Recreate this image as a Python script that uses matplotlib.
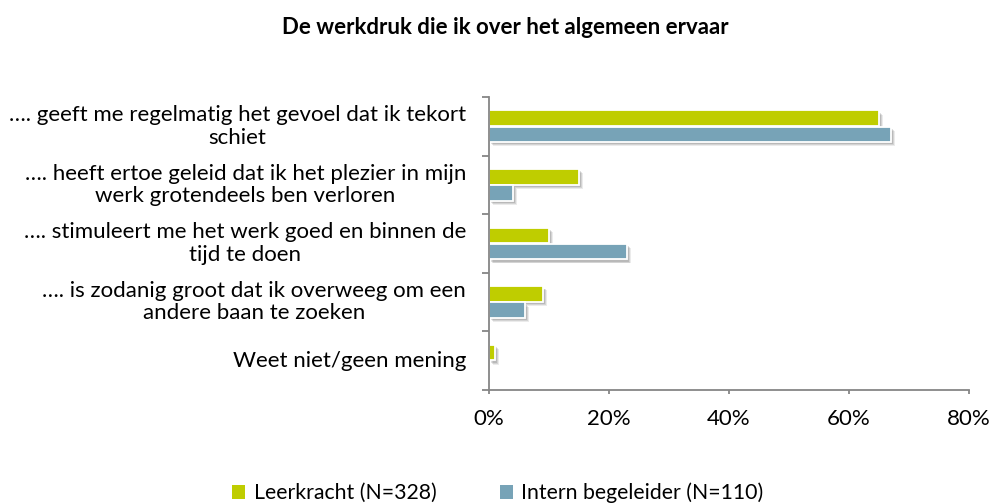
import matplotlib
matplotlib.use("Agg")
import matplotlib.pyplot as plt
import matplotlib.patheffects as pe
from matplotlib.patches import Patch
from matplotlib.ticker import FuncFormatter, FixedLocator
import numpy as np

plt.rcParams['font.family'] = ['Lato', 'DejaVu Sans']

title = "De werkdruk die ik over het algemeen ervaar"
categories = [
    "…. geeft me regelmatig het gevoel dat ik tekort\nschiet",
    "…. heeft ertoe geleid dat ik het plezier in mijn\nwerk grotendeels ben verloren",
    "…. stimuleert me het werk goed en binnen de\ntijd te doen",
    "…. is zodanig groot dat ik overweeg om een\nandere baan te zoeken",
    "Weet niet/geen mening",
]
series_names = ["Leerkracht (N=328)", "Intern begeleider (N=110)"]
leerkracht = [65, 15, 10, 9, 1]
intern = [67, 4, 23, 6, 0]
x_ticks = [0, 20, 40, 60, 80]

green = "#BFCD00"
blue = "#77A3B7"
axis_grey = "#868686"
fs = 16

fig = plt.figure(figsize=(9.92, 5.03), dpi=100)
ax = fig.add_axes([489/992, 1-390/503, (969-489)/992, (390-97)/503])

y = np.arange(len(categories))
h = 0.265
shadow = [pe.SimplePatchShadow(offset=(3.0, -3.0), shadow_rgbFace='#000000', alpha=0.08),
          pe.SimplePatchShadow(offset=(2.3, -2.3), shadow_rgbFace='#000000', alpha=0.10),
          pe.SimplePatchShadow(offset=(1.6, -1.6), shadow_rgbFace='#000000', alpha=0.12),
          pe.Normal()]
for vals, off, col in [(leerkracht, -h/2 - 0.005, green), (intern, h/2 + 0.005, blue)]:
    bars = ax.barh(y + off, vals, height=h, color=col, edgecolor='white', linewidth=1.3)
    for b in bars:
        if b.get_width() > 0:
            b.set_path_effects(shadow)
        else:
            b.set_visible(False)

ax.set_xlim(0, 80)
ax.set_ylim(len(categories) - 0.5, -0.5)
ax.set_xticks(x_ticks)
ax.xaxis.set_major_formatter(FuncFormatter(lambda v, p: f"{int(v)}%"))
ax.set_yticks(y)
ax.set_yticklabels(categories, multialignment='center', linespacing=1.15, va='center')
for t in ax.get_yticklabels():
    t.set_transform(t.get_transform() + matplotlib.transforms.ScaledTranslation(0, 2/100, fig.dpi_scale_trans))
ax.yaxis.set_minor_locator(FixedLocator(np.arange(-0.5, len(categories), 1.0)))
ax.tick_params(axis='y', which='major', length=0, pad=16.5, labelsize=fs, colors='black')
ax.tick_params(axis='y', which='minor', length=5, width=1.3, color=axis_grey, direction='out')
ax.tick_params(axis='x', which='major', length=3, width=1.3, color=axis_grey, pad=11, labelsize=fs, labelcolor='black')
for s in ['top', 'right']:
    ax.spines[s].set_visible(False)
for s in ['left', 'bottom']:
    ax.spines[s].set_color(axis_grey)
    ax.spines[s].set_linewidth(1.3)

fig.text(505/992, 1-28/503, title, ha='center', va='center', fontsize=16, fontweight='bold')

handles = [Patch(facecolor=green, edgecolor='none'), Patch(facecolor=blue, edgecolor='none')]
fig.legend(handles, series_names, loc='center', bbox_to_anchor=(498/992, 1-493/503), ncol=2,
           frameon=False, fontsize=15.3, handlelength=0.6, handleheight=0.6, handletextpad=0.4,
           columnspacing=3.0, borderpad=0)

fig.savefig("out.png", dpi=100)
